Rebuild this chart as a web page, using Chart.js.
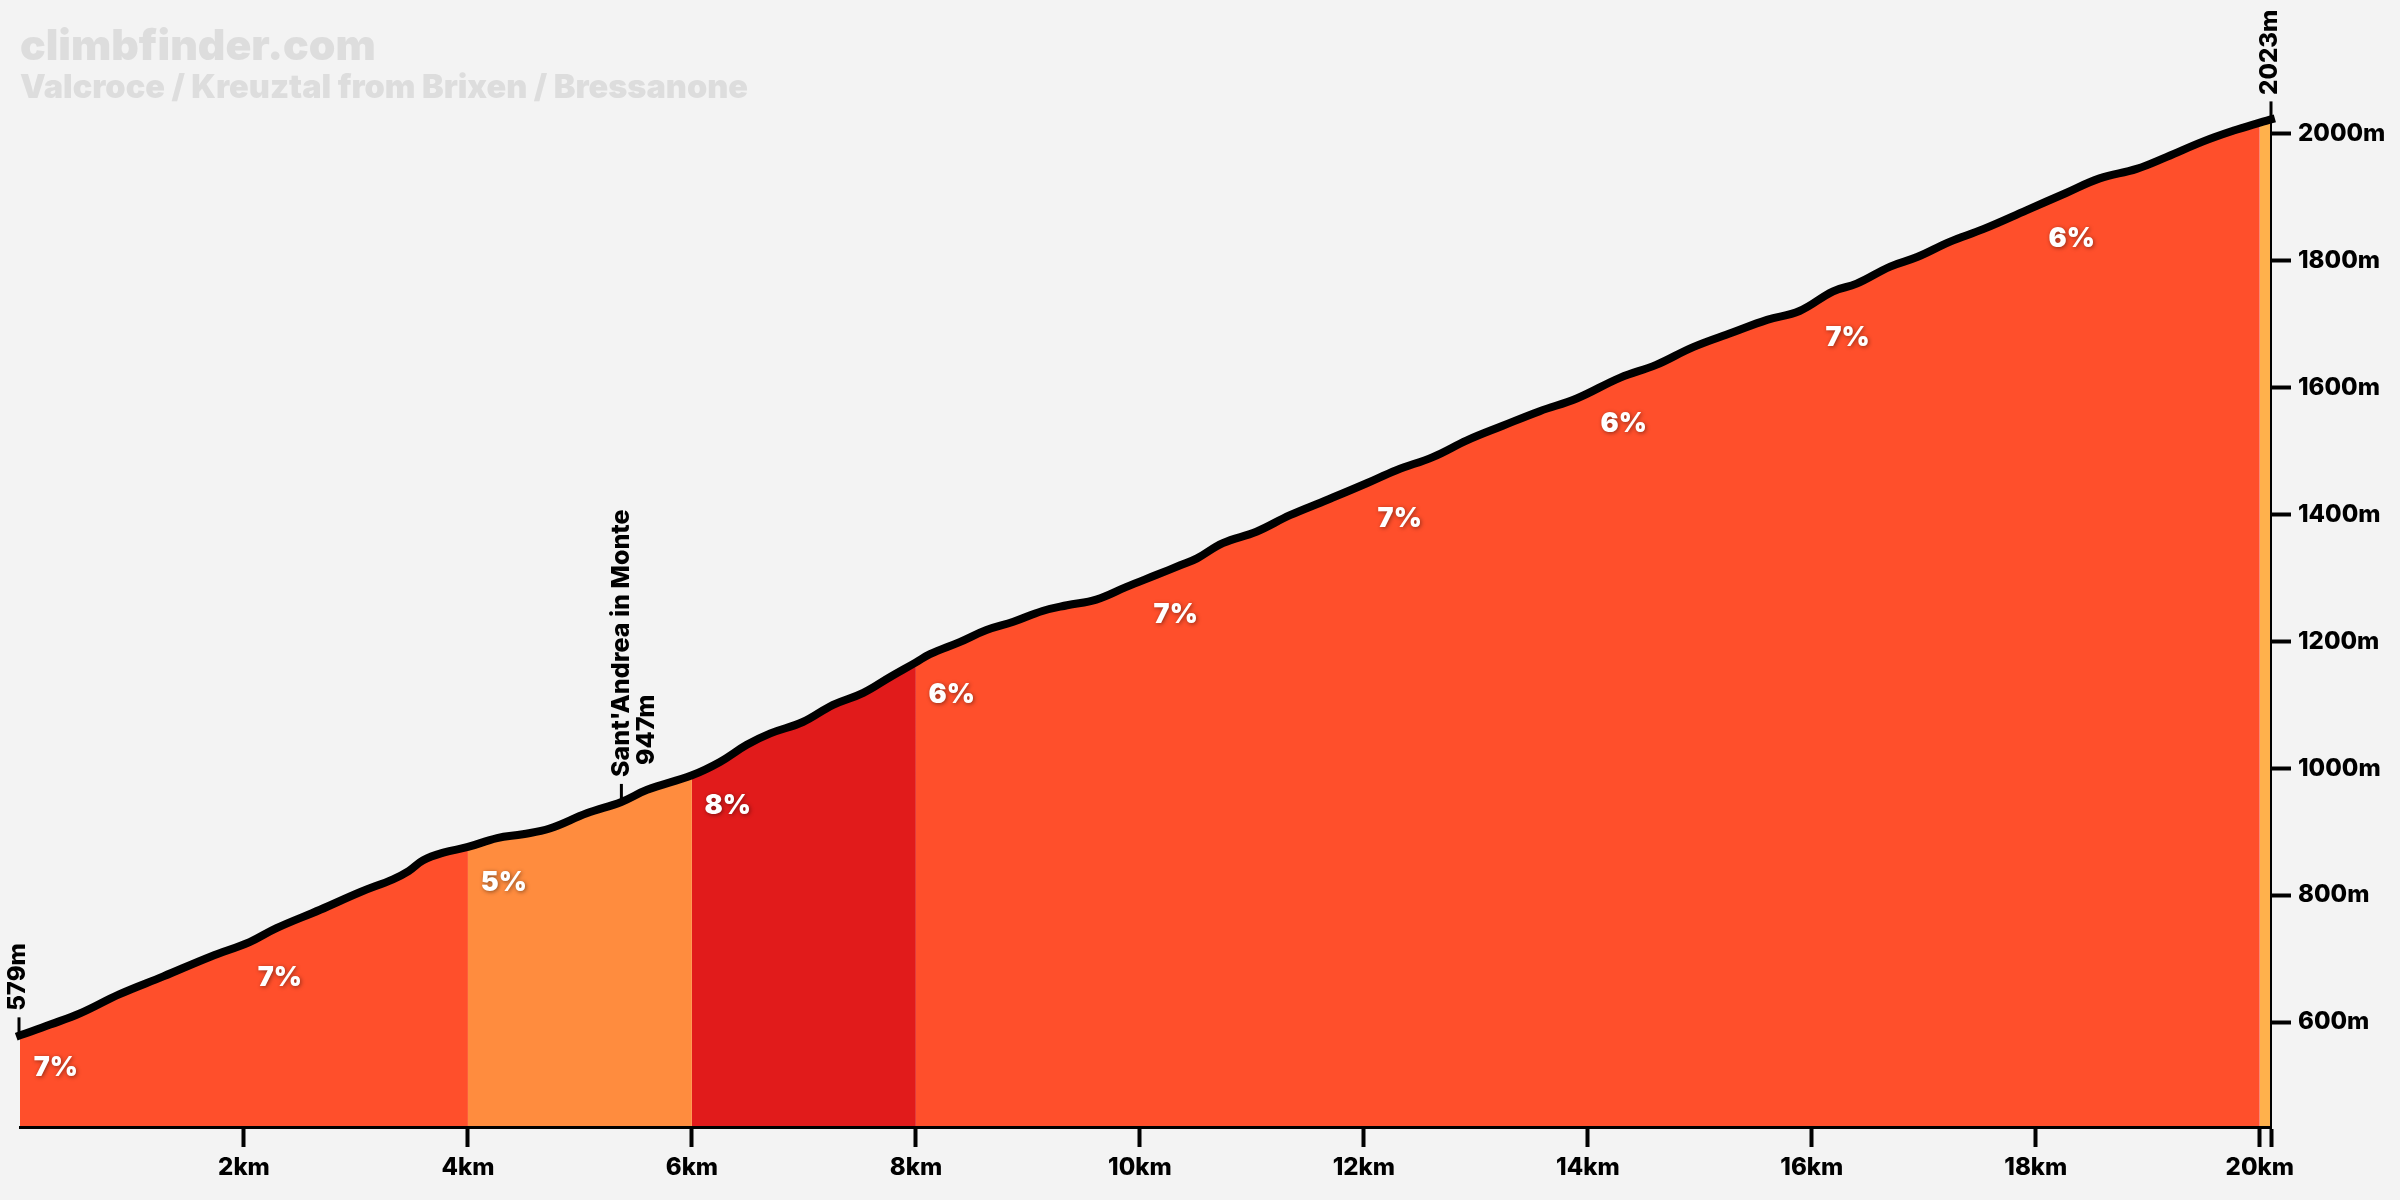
<!DOCTYPE html>
<html><head><meta charset="utf-8">
<style>html,body{margin:0;padding:0;background:#f3f3f3}canvas{display:block}</style>
<script src="https://cdn.jsdelivr.net/npm/chart.js@4"></script>
</head><body><canvas id="c" width="2400" height="1200" style="width:2400px;height:1200px"></canvas>
<script>
const titleText = "climbfinder.com";
const subtitleText = "Valcroce / Kreuztal from Brixen / Bressanone";
const distanceKm = [0,.27,.54,.89,1.28,1.7,2.05,2.29,2.68,3.04,3.33,3.47,3.6,3.78,4,4.26,4.49,4.73,5.06,5.37,5.6,6,6.25,6.49,6.7,6.99,7.26,7.53,7.77,8,8.125,8.39,8.63,8.87,9.13,9.35,9.61,9.88,10.15,10.36,10.51,10.74,11.04,11.34,11.67,12.02,12.29,12.62,12.92,13.24,13.57,13.9,14.29,14.61,14.94,15.29,15.6,15.89,16.19,16.4,16.7,16.94,17.23,17.53,17.92,18.27,18.57,18.9,19.17,19.49,19.76,20,20.1];
const elevationM = [579,596,614,644,672,703,726,748,777,805,825,838,855,867,876,890,896,905,929,947,966,989,1010,1037,1055,1073,1100,1119,1144,1167,1180,1199,1218,1231,1248,1257,1266,1286,1305,1320,1331,1355,1373,1399,1423,1449,1470,1491,1517,1540,1563,1583,1616,1636,1664,1687,1707,1721,1752,1764,1791,1806,1830,1850,1880,1907,1930,1945,1964,1988,2005,2018,2023];
const bandStartKm = [0,4,6,8,20];
const bandEndKm = [4,6,8,20,20.1];
const bandColors = ["#ff4f2b","#ff8c3e","#e11b1b","#ff4f2b","#ffb14c"];
const gradeLabels = ["7%","7%","5%","8%","6%","7%","7%","6%","7%","6%"];
const gradeKm = [.32,2.32,4.32,6.32,8.32,10.32,12.32,14.32,16.32,18.32];
const gradeElev = [528,670,820,941,1115,1242,1394,1543,1679,1834];
const xTickValues = [2,4,6,8,10,12,14,16,18,20,20.1];
const yTickValues = [600,800,1000,1200,1400,1600,1800,2000];
const markerKm = [0,5.37,20.1];
const markerElev = [579,947,2023];
const markerName = ["","Sant'Andrea in Monte",""];
const markerHeight = ["579m","947m","2023m"];

const FF = "Inter, 'Noto Sans', sans-serif";
const points = distanceKm.map((d,i)=>({x:d,y:elevationM[i]}));
const datasets = [{
  data: points, borderColor:"#000", borderWidth:8, fill:false, pointRadius:0, tension:.4,
  borderCapStyle:"square", borderJoinStyle:"round", order:0, clip:false
}];
bandStartKm.forEach((s,i)=>{
  datasets.push({
    data: points.filter(p=>p.x>=s && p.x<=bandEndKm[i]),
    borderWidth:0, borderColor:"transparent", backgroundColor:bandColors[i],
    fill:"origin", pointRadius:0, tension:.4, order:i+1
  });
});

const annotate = {
  id:"annotate",
  afterDraw(chart){
    const {ctx,scales:{x,y}} = chart;
    ctx.save();
    ctx.fillStyle="#dddddd"; ctx.textAlign="left"; ctx.textBaseline="alphabetic";
    ctx.font="900 42.7px "+FF;
    ctx.fillText(titleText,20,60);
    ctx.font="900 32.5px "+FF;
    ctx.fillText(subtitleText,20,98);
    ctx.textAlign="center"; ctx.textBaseline="middle";
    ctx.font="900 27px "+FF;
    gradeLabels.forEach((t,i)=>{
      ctx.save();
      ctx.shadowColor="rgba(0,0,0,.45)"; ctx.shadowBlur=4; ctx.shadowOffsetX=1; ctx.shadowOffsetY=1;
      ctx.fillStyle="#fff";
      ctx.fillText(t,x.getPixelForValue(gradeKm[i]),y.getPixelForValue(gradeElev[i]));
      ctx.restore();
    });
    markerKm.forEach((k,i)=>{
      const px=x.getPixelForValue(k), py=y.getPixelForValue(markerElev[i]);
      const mx = i===0 ? px-1 : px;
      ctx.strokeStyle="#000"; ctx.lineWidth=3;
      ctx.beginPath(); ctx.moveTo(mx,py-3); ctx.lineTo(mx,py-18); ctx.stroke();
      ctx.fillStyle="#000"; ctx.textBaseline="middle"; ctx.textAlign="left";
      ctx.save();
      if(markerName[i]){
        ctx.font="800 25px "+FF;
        ctx.translate(mx,py-25);
        ctx.rotate(-Math.PI/2);
        ctx.fillText(markerName[i],0,0);
        ctx.fillText(markerHeight[i],12,25);
      } else {
        ctx.font="800 24px "+FF;
        ctx.translate(mx-1,py-24.5);
        ctx.rotate(-Math.PI/2);
        ctx.fillText(markerHeight[i],0,0);
      }
      ctx.restore();
    });
    ctx.restore();
  }
};

new Chart(document.getElementById("c"),{
  type:"line",
  data:{datasets},
  plugins:[annotate],
  options:{
    responsive:false, animation:false, devicePixelRatio:1,
    layout:{padding:{left:20,right:0,top:119.4,bottom:0}},
    plugins:{legend:{display:false},tooltip:{enabled:false},title:{display:false}},
    scales:{
      x:{
        type:"linear", min:0, max:20.1,
        afterBuildTicks:s=>{s.ticks=xTickValues.map(v=>({value:v}));},
        afterFit:s=>{s.height=73;s.paddingLeft=0;s.paddingRight=0;},
        border:{display:true,color:"#000",width:3,z:1},
        grid:{drawOnChartArea:false,drawTicks:true,tickLength:20,tickWidth:4,tickColor:"#000",z:1},
        ticks:{color:"#000",font:{family:FF,weight:"800",size:24},padding:6,autoSkip:false,maxRotation:0,
          callback:v=>v===20.1?"":v+"km"}
      },
      y:{
        type:"linear", position:"right", min:434.5, max:2023,
        afterBuildTicks:s=>{s.ticks=yTickValues.map(v=>({value:v}));},
        afterFit:s=>{s.width=129;s.paddingTop=0;s.paddingBottom=0;},
        border:{display:true,color:"#000",width:2,z:1},
        grid:{drawOnChartArea:false,drawTicks:true,tickLength:20,tickWidth:4,tickColor:"#000",z:1},
        ticks:{color:"#000",font:{family:FF,weight:"800",size:24},padding:7,autoSkip:false,
          callback:v=>v+"m"}
      }
    }
  }
});
</script></body></html>
